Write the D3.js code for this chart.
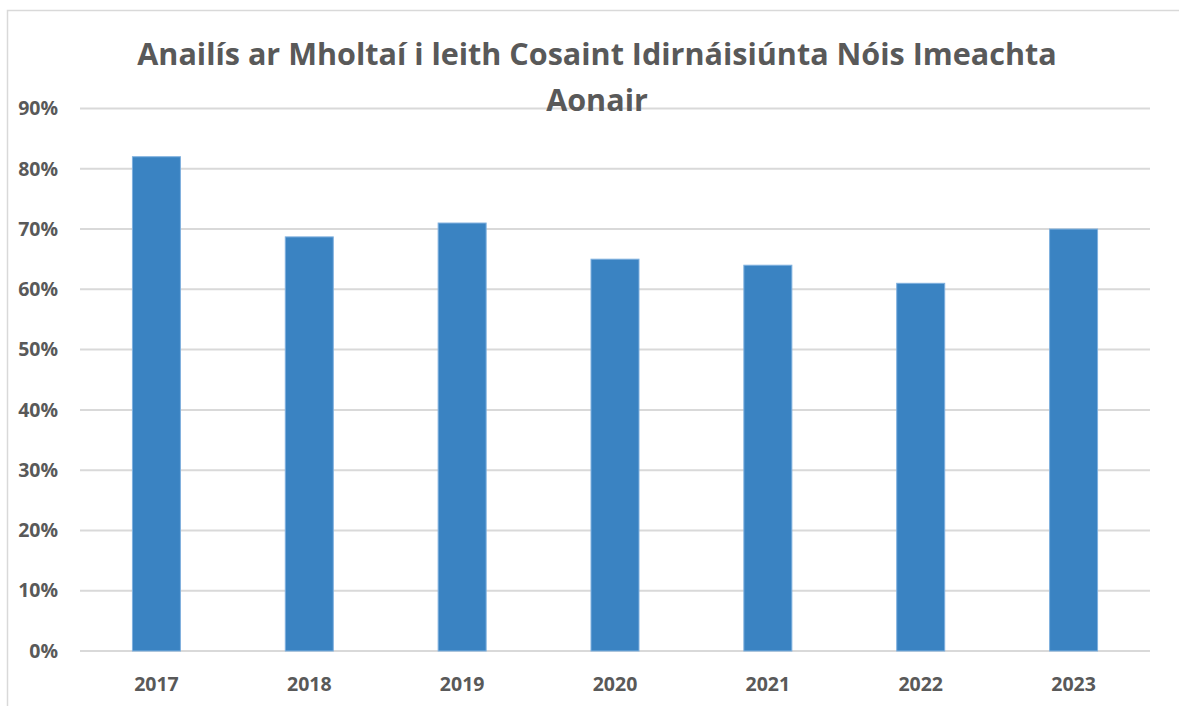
<!DOCTYPE html>
<meta charset="utf-8" />
<style>
  body {
    margin: 0;
    background: #fff;
  }
  text {
    font-family: "Open Sans", sans-serif;
    font-weight: bold;
    fill: #595959;
  }
  .grid line {
    stroke: #d9d9d9;
    stroke-width: 2px;
  }
  .bars rect {
    fill: #3a83c2;
    stroke: #7fb0de;
    stroke-width: 1px;
  }
</style>
<svg width="1179" height="706"></svg>

<script src="https://d3js.org/d3.v7.js"></script>
<script>
  /* global d3 */

  var years = ["2017", "2018", "2019", "2020", "2021", "2022", "2023"];
  var values = [0.82, 0.687, 0.71, 0.65, 0.64, 0.61, 0.70];
  var yTicks = [0, 0.1, 0.2, 0.3, 0.4, 0.5, 0.6, 0.7, 0.8, 0.9];
  var titleLines = [
    "Anailís ar Mholtaí i leith Cosaint Idirnáisiúnta Nóis Imeachta",
    "Aonair"
  ];

  var svg = d3.select("svg");

  // chart frame (only left and top edges fall inside the picture)
  svg.append("rect")
    .attr("x", 7.5)
    .attr("y", 10.5)
    .attr("width", 1180)
    .attr("height", 720)
    .attr("fill", "none")
    .attr("stroke", "#d9d9d9")
    .attr("stroke-width", 1.5);

  var x = d3.scaleBand().domain(years).range([80, 1150]).paddingInner(0.686).paddingOuter(0.343);
  var y = d3.scaleLinear().domain([0, 0.9]).range([651, 108.5]);

  var grid = svg.append("g").attr("class", "grid");
  grid.selectAll("line")
    .data(yTicks)
    .enter()
    .append("line")
    .attr("x1", 80)
    .attr("x2", 1150)
    .attr("y1", function (d) { return y(d); })
    .attr("y2", function (d) { return y(d); });

  var yAxis = d3.axisLeft(y)
    .tickValues(yTicks)
    .tickFormat(d3.format(".0%"))
    .tickSize(0)
    .tickPadding(0);

  svg.append("g")
    .attr("transform", "translate(58,0)")
    .call(yAxis)
    .call(function (g) { g.select(".domain").remove(); })
    .selectAll("text")
    .attr("font-size", 19.5)
    .attr("font-family", null)
    .attr("fill", null);

  svg.append("g")
    .attr("class", "bars")
    .selectAll("rect")
    .data(values)
    .enter()
    .append("rect")
    .attr("x", function (d, i) { return x(years[i]); })
    .attr("width", x.bandwidth())
    .attr("y", function (d) { return y(d); })
    .attr("height", function (d) { return y(0) - y(d); });

  var xAxis = d3.axisBottom(x).tickSize(0).tickPadding(0);
  svg.append("g")
    .attr("transform", "translate(0,677)")
    .call(xAxis)
    .call(function (g) { g.select(".domain").remove(); })
    .selectAll("text")
    .attr("font-size", 19.5)
    .attr("font-family", null)
    .attr("fill", null);

  // title, sized so the first line spans the same width as the picture
  var title = svg.append("text")
    .attr("text-anchor", "middle")
    .attr("font-size", 28);
  title.selectAll("tspan")
    .data(titleLines)
    .enter()
    .append("tspan")
    .attr("x", 597)
    .attr("y", function (d, i) { return i ? 111 : 65; })
    .text(function (d) { return d; });

  var w = title.select("tspan").node().getComputedTextLength();
  title.attr("font-size", 28 * 920 / w);
</script>
